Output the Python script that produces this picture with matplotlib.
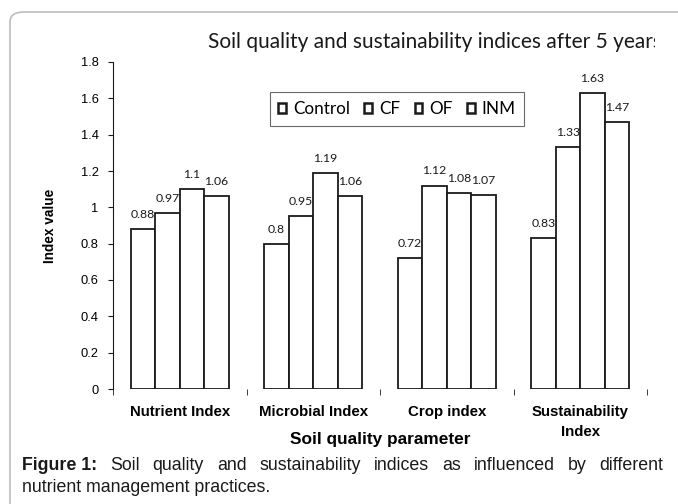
#!/usr/bin/env python3
"""Soil quality and sustainability indices bar chart (Figure 1 recreation)."""

import matplotlib
matplotlib.use('Agg')
import matplotlib.pyplot as plt
from matplotlib.patches import FancyBboxPatch, Patch
from matplotlib.transforms import Bbox
import numpy as np

# -----------------------------------------------------------------------------
# Data
# -----------------------------------------------------------------------------
categories = ['Nutrient Index', 'Microbial Index', 'Crop index', 'Sustainability\nIndex']
treatments = ['Control', 'CF', 'OF', 'INM']
control = [0.88, 0.80, 0.72, 0.83]
cf = [0.97, 0.95, 1.12, 1.33]
of = [1.10, 1.19, 1.08, 1.63]
inm = [1.06, 1.06, 1.07, 1.47]
yticks = [0, 0.2, 0.4, 0.6, 0.8, 1, 1.2, 1.4, 1.6, 1.8]
ytick_labels = ['0', '0.2', '0.4', '0.6', '0.8', '1', '1.2', '1.4', '1.6', '1.8']

INK = '#1a1a1a'
FRAME = '#bdbdbd'
ARIAL = 'Liberation Sans'
SOFT = 'Lato'

W, H, DPI = 678, 504, 100
fig = plt.figure(figsize=(W / DPI, H / DPI), dpi=DPI)
fig.patch.set_facecolor('white')

# rounded outer frame, runs off the right and bottom edges
frame = FancyBboxPatch((10 / W, -40 / H), 720 / W, (H - 12 + 40) / H,
                       boxstyle='round,pad=0,rounding_size=0.02',
                       transform=fig.transFigure, facecolor='none',
                       edgecolor=FRAME, linewidth=1.2)
fig.patches.append(frame)

ax = fig.add_axes([113 / W, 1 - 389 / H, (647 - 113) / W, (389 - 62) / H])

x = np.arange(len(categories))
bw = 0.183
series = [control, cf, of, inm]
for i, vals in enumerate(series):
    pos = x + (i - 1.5) * bw
    bars = ax.bar(pos, vals, width=bw, color='white', edgecolor=INK,
                  linewidth=1.3, label=treatments[i], zorder=3)
    for b, v in zip(bars, vals):
        ax.text(b.get_x() + b.get_width() / 2, v + 0.05, f'{v:g}',
                ha='center', va='bottom', fontsize=8.8, family=SOFT, color=INK)

ax.set_xlim(-0.5, 3.5)
ax.set_ylim(0, 1.8)
ax.set_yticks(yticks)
ax.set_yticklabels(ytick_labels, family=ARIAL, fontsize=9.3)
ax.set_xticks(x)
ax.set_xticklabels(categories, family=ARIAL, fontsize=10.8, fontweight='bold',
                   linespacing=1.5)
ax.set_xticks(np.arange(-0.5, 4, 1), minor=True)
ax.tick_params(axis='x', which='major', length=0, pad=11.7)
ax.tick_params(axis='x', which='minor', length=4, direction='out', color=INK)
ax.tick_params(axis='y', length=3.8, direction='out', color=INK, pad=6.5)
for s in ['top', 'right', 'bottom']:
    ax.spines[s].set_visible(False)
ax.spines['left'].set_color(INK)
ax.set_ylabel('Index value', family=ARIAL, fontsize=9.8, fontweight='bold', labelpad=17)
ax.set_xlabel('Soil quality parameter', family=ARIAL, fontsize=12.4,
              fontweight='bold', labelpad=-5)

handles = [Patch(facecolor='white', edgecolor=INK, linewidth=1.8) for _ in treatments]
leg = fig.legend(handles, treatments, loc='center', bbox_to_anchor=(397 / W, 1 - 109 / H),
                 ncol=4, frameon=True, fancybox=False, edgecolor='#444444',
                 prop={'family': SOFT, 'size': 12.3}, handlelength=0.45, handleheight=0.45,
                 handletextpad=0.4, columnspacing=0.85, borderpad=0.5)
leg.get_frame().set_linewidth(0.8)

title = fig.text(208 / W, 1 - 42 / H, 'Soil quality and sustainability indices after 5 years',
                 ha='left', va='center', fontsize=15, family=SOFT, color=INK)
title.set_clip_box(Bbox([[0, 0], [655, H]]))
title.set_clip_on(True)

# justified caption, line 1
renderer = fig.canvas.get_renderer()
words = [('Figure 1:', 'bold')] + [(w, 'normal') for w in
         'Soil quality and sustainability indices as influenced by different'.split()]
x0, x1, y1 = 22, 663, 1 - 466 / H
objs = []
for w, weight in words:
    t = fig.text(0, y1, w, ha='left', va='center', fontsize=12.8, family=ARIAL,
                 fontweight=weight, color=INK)
    objs.append(t)
widths = [t.get_window_extent(renderer).width for t in objs]
gap = (x1 - x0 - sum(widths)) / (len(objs) - 1)
cur = x0
for t, wd in zip(objs, widths):
    t.set_x(cur / W)
    cur += wd + gap
fig.text(x0 / W, 1 - 488 / H, 'nutrient management practices.', ha='left', va='center',
         fontsize=12.8, family=ARIAL, color=INK)

fig.savefig('out.png', dpi=DPI, facecolor='white')
